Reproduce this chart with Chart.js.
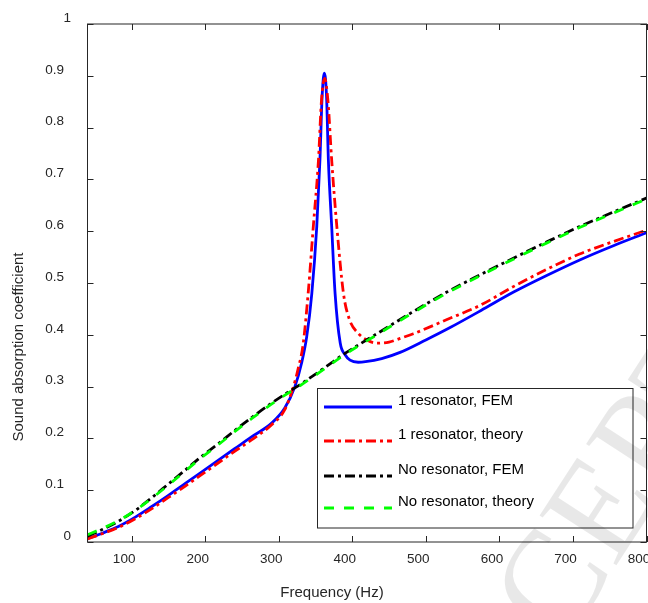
<!DOCTYPE html>
<html>
<head>
<meta charset="utf-8">
<script src="https://cdn.jsdelivr.net/npm/chart.js@4"></script>
<style>
  html, body { margin: 0; padding: 0; background: #fff; }
</style>
</head>
<body>
<canvas id="absorptionChart" width="648" height="603"></canvas>
<script>
// axis ticks
var freqTicks = [100, 200, 300, 400, 500, 600, 700, 800];
var alphaTicks = [0, 0.1, 0.2, 0.3, 0.4, 0.5, 0.6, 0.7, 0.8, 0.9, 1];

// 1 resonator, FEM
var femResFreq = [40, 60, 82, 105, 127, 150, 173, 195, 218, 240, 263, 290, 308, 322, 331, 338, 345, 351.7, 356, 359, 362, 365, 367.5, 372, 376.6, 383.6, 390, 397, 408, 418, 440, 465, 500, 533, 575, 620, 665, 710, 755, 800];
var femResAlpha = [0.006, 0.017, 0.030, 0.048, 0.068, 0.090, 0.113, 0.135, 0.158, 0.180, 0.203, 0.229, 0.258, 0.300, 0.345, 0.396, 0.480, 0.609, 0.737, 0.860, 0.905, 0.860, 0.737, 0.609, 0.480, 0.384, 0.362, 0.351, 0.347, 0.348, 0.354, 0.366, 0.390, 0.414, 0.447, 0.483, 0.515, 0.545, 0.572, 0.597];

// 1 resonator, theory
var thResFreq = [40, 60, 82, 105, 127, 150, 173, 195, 218, 240, 263, 290, 308, 320, 327, 333, 340, 347, 354, 358, 362.5, 367, 372, 379, 388, 396, 408, 420, 433, 450, 465, 483, 528, 574, 619, 664, 709, 755, 800];
var thResAlpha = [0.006, 0.016, 0.028, 0.045, 0.064, 0.086, 0.108, 0.130, 0.153, 0.175, 0.197, 0.226, 0.255, 0.300, 0.338, 0.380, 0.480, 0.609, 0.737, 0.850, 0.895, 0.850, 0.737, 0.609, 0.480, 0.430, 0.403, 0.390, 0.384, 0.386, 0.393, 0.402, 0.429, 0.457, 0.493, 0.526, 0.556, 0.580, 0.602];

// no resonator (FEM and theory share the frequency grid)
var noResFreq = [40, 60, 82, 105, 127, 150, 173, 195, 218, 240, 263, 285, 308, 327, 350, 390, 438, 483, 528, 574, 619, 664, 709, 755, 800];
var femNoResAlpha = [0.011, 0.024, 0.040, 0.061, 0.085, 0.112, 0.139, 0.165, 0.190, 0.215, 0.240, 0.263, 0.285, 0.302, 0.324, 0.364, 0.406, 0.445, 0.482, 0.516, 0.548, 0.579, 0.609, 0.637, 0.664];
var thNoResAlpha = [0.014, 0.026, 0.041, 0.061, 0.084, 0.110, 0.137, 0.163, 0.188, 0.213, 0.238, 0.261, 0.283, 0.300, 0.322, 0.362, 0.404, 0.443, 0.480, 0.514, 0.546, 0.577, 0.607, 0.635, 0.662];

function toPoints(xs, ys) {
    return xs.map(function (x, i) { return { x: x, y: ys[i] }; });
}

var axisColor = '#262626';
var tickFont = '13.5px "Liberation Sans", Arial, sans-serif';
var labelFont = '15px "Liberation Sans", Arial, sans-serif';

// box, inward ticks, labels and titles in the usual MATLAB look
var matlabAxes = {
    id: 'matlabAxes',
    afterDatasetsDraw: function (chart) {
        var ctx = chart.ctx;
        var a = chart.chartArea;
        var xs = chart.scales.x, ys = chart.scales.y;
        ctx.save();
        ctx.strokeStyle = axisColor;
        ctx.lineWidth = 1;
        ctx.strokeRect(a.left, a.top, a.right - a.left, a.bottom - a.top);

        ctx.beginPath();
        freqTicks.forEach(function (v) {
            var px = Math.round(xs.getPixelForValue(v)) + 0.5;
            ctx.moveTo(px, a.bottom); ctx.lineTo(px, a.bottom - 6);
            ctx.moveTo(px, a.top); ctx.lineTo(px, a.top + 6);
        });
        alphaTicks.forEach(function (v) {
            var py = Math.round(ys.getPixelForValue(v)) + 0.5;
            ctx.moveTo(a.left, py); ctx.lineTo(a.left + 6, py);
            ctx.moveTo(a.right, py); ctx.lineTo(a.right - 6, py);
        });
        ctx.stroke();

        ctx.fillStyle = axisColor;
        ctx.font = tickFont;
        ctx.textBaseline = 'middle';
        ctx.textAlign = 'center';
        freqTicks.forEach(function (v) {
            ctx.fillText(String(v), xs.getPixelForValue(v) - 7.5, a.bottom + 17);
        });
        ctx.textAlign = 'right';
        alphaTicks.forEach(function (v) {
            var right = Number.isInteger(v) ? 71 : 64;
            ctx.fillText(String(v), right, ys.getPixelForValue(v) - 6);
        });

        ctx.font = labelFont;
        ctx.textAlign = 'center';
        ctx.fillText('Frequency (Hz)', 332, 593);
        ctx.translate(18.5, 347);
        ctx.rotate(-Math.PI / 2);
        ctx.fillText('Sound absorption coefficient', 0, 0);
        ctx.restore();

        // legend box inside the axes
        var box = { left: 317.5, top: 388.5, right: 633, bottom: 528 };
        var lineY = [407, 441, 476, 508];
        ctx.save();
        ctx.fillStyle = '#fff';
        ctx.fillRect(box.left, box.top, box.right - box.left, box.bottom - box.top);
        ctx.strokeStyle = axisColor;
        ctx.lineWidth = 1;
        ctx.strokeRect(box.left, box.top, box.right - box.left, box.bottom - box.top);
        chart.data.datasets.forEach(function (ds, i) {
            ctx.beginPath();
            ctx.strokeStyle = ds.borderColor;
            ctx.lineWidth = ds.borderWidth;
            ctx.setLineDash(ds.borderDash || []);
            ctx.moveTo(324, lineY[i]);
            ctx.lineTo(392, lineY[i]);
            ctx.stroke();
            ctx.setLineDash([]);
            ctx.fillStyle = '#000';
            ctx.font = labelFont;
            ctx.textAlign = 'left';
            ctx.textBaseline = 'middle';
            ctx.fillText(ds.label, 398, lineY[i] - 6);
        });
        ctx.restore();
    },
    afterDraw: function (chart) {
        // faint diagonal manuscript stamp
        var ctx = chart.ctx;
        var ang = -57 * Math.PI / 180;
        ctx.save();
        ctx.font = '140px "Liberation Serif", "Times New Roman", serif';
        ctx.fillStyle = 'rgba(0, 0, 0, 0.09)';
        ctx.textBaseline = 'middle';
        ctx.textAlign = 'left';
        var off = ctx.measureText('AC').width + ctx.measureText('C').width / 2;
        var cx = 558, cy = 588;
        ctx.translate(cx - off * Math.cos(ang), cy - off * Math.sin(ang));
        ctx.rotate(ang);
        ctx.fillText('ACCEPTED MANUSCRIPT', 0, 0);
        ctx.restore();
    }
};

var chart = new Chart(document.getElementById('absorptionChart').getContext('2d'), {
    type: 'line',
    data: {
        datasets: [{
            label: '1 resonator, FEM',
            data: toPoints(femResFreq, femResAlpha),
            borderColor: '#0000ff',
            borderWidth: 2.8,
            order: 4
        }, {
            label: '1 resonator, theory',
            data: toPoints(thResFreq, thResAlpha),
            borderColor: '#ff0000',
            borderWidth: 2.8,
            borderDash: [10, 4, 3, 4],
            order: 3
        }, {
            label: 'No resonator, FEM',
            data: toPoints(noResFreq, femNoResAlpha),
            borderColor: '#000000',
            borderWidth: 2.8,
            borderDash: [10, 4, 3, 4],
            order: 2
        }, {
            label: 'No resonator, theory',
            data: toPoints(noResFreq, thNoResAlpha),
            borderColor: '#00ff00',
            borderWidth: 2.8,
            borderDash: [10, 10],
            order: 1
        }]
    },
    options: {
        responsive: false,
        animation: false,
        events: [],
        layout: { padding: { left: 87.5, right: 1.5, top: 24, bottom: 61 } },
        elements: {
            point: { radius: 0 },
            line: { cubicInterpolationMode: 'monotone', fill: false }
        },
        scales: {
            x: { type: 'linear', min: 40, max: 800, display: false },
            y: { type: 'linear', min: 0, max: 1, display: false }
        },
        plugins: {
            legend: { display: false },
            tooltip: { enabled: false }
        }
    },
    plugins: [matlabAxes]
});
</script>
</body>
</html>
